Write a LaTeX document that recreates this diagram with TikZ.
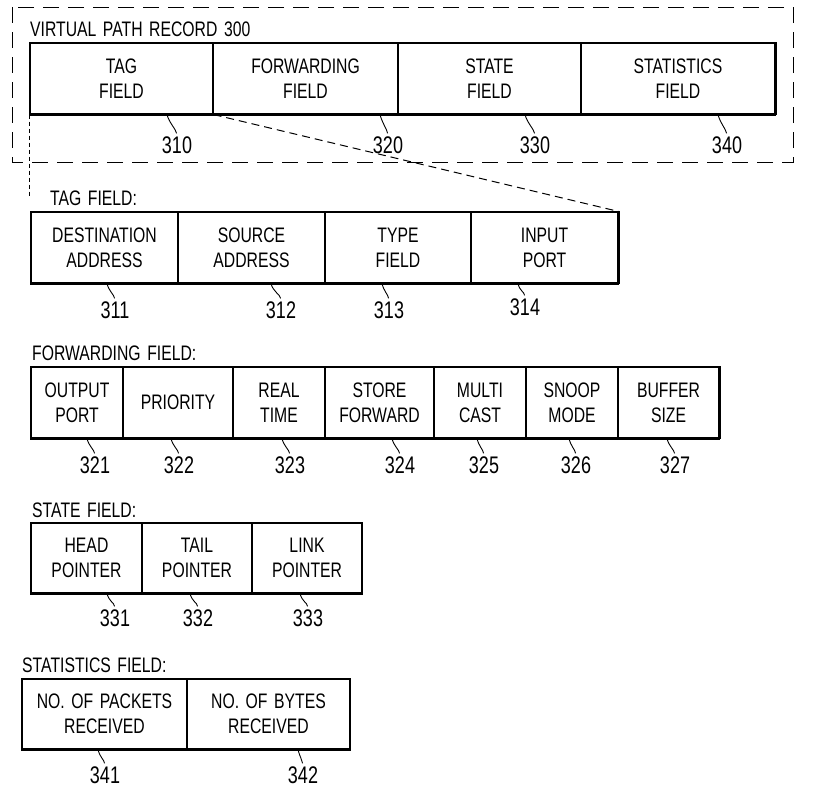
\documentclass[tikz,border=0pt]{standalone}
\usepackage{fontspec}
\setmainfont{Liberation Sans}[FakeStretch=0.75,WordSpace=1.5]
\newcommand{\lblfont}{\fontsize{21}{25}\selectfont}
\newcommand{\numfont}{\fontsize{24}{26}\selectfont}
\begin{document}
\begin{tikzpicture}[x=1pt,y=-1pt,
  cell/.style={draw, line width=1.1pt, inner sep=0pt, align=center, font=\lblfont, minimum height=71pt},
  baseline/.style={line width=2.3pt},
  tickline/.style={line width=0.9pt, shorten >=3pt},
  num/.style={font=\numfont, inner sep=0pt},
  heading/.style={anchor=west, inner sep=0pt, font=\lblfont},
  outerdash/.style={line width=0.9pt, dash pattern=on 16pt off 9pt},
  zoomdash/.style={line width=1pt, dash pattern=on 8pt off 5pt},
  leaderdash/.style={line width=0.8pt, dash pattern=on 4pt off 3pt}]
\useasboundingbox (0,0) rectangle (827,787);

% ---------- Virtual path record ----------
\node[heading] (title) at (30,29) {VIRTUAL PATH RECORD 300};
\node[cell, minimum width=183pt] (r1) at (121.5,78.5) {TAG\\FIELD};
\node[cell, minimum width=185pt] (r2) at (305.5,78.5) {FORWARDING\\FIELD};
\node[cell, minimum width=183pt] (r3) at (489.5,78.5) {STATE\\FIELD};
\node[cell, minimum width=194pt] (r4) at (678,78.5) {STATISTICS\\FIELD};
\draw[baseline] (r1.south west) -- (r4.south east);
\draw[line width=2pt] (r4.north east) -- (r4.south east);
\coordinate (obTL) at (12,7);
\coordinate (obBR) at (793,162);
\draw[outerdash] (obTL) rectangle (obBR);

\node[num] (n310) at (177,145) {310};
\node[num] (n320) at (388,145) {320};
\node[num] (n330) at (535,145) {330};
\node[num] (n340) at (727,145) {340};
\draw[tickline] ([xshift=45.5pt]r1.south) .. controls +(2,8) and +(-1,-7) .. (n310.north);
\draw[tickline] ([xshift=74.5pt]r2.south) .. controls +(2,8) and +(-1,-7) .. (n320.north);
\draw[tickline] ([xshift=35.5pt]r3.south) .. controls +(2,8) and +(-1,-7) .. (n330.north);
\draw[tickline] ([xshift=40pt]r4.south) .. controls +(2,8) and +(-1,-7) .. (n340.north);

% ---------- Tag field ----------
\node[heading] (htag) at (50,198) {TAG FIELD:};
\node[cell, minimum width=147pt] (t1) at (104.5,247.5) {DESTINATION\\ADDRESS};
\node[cell, minimum width=147pt] (t2) at (251.5,247.5) {SOURCE\\ADDRESS};
\node[cell, minimum width=146pt] (t3) at (398,247.5) {TYPE\\FIELD};
\node[cell, minimum width=147pt] (t4) at (544.5,247.5) {INPUT\\PORT};
\draw[baseline] (t1.south west) -- (t4.south east);
\draw[line width=2pt] (t4.north east) -- (t4.south east);
\draw[zoomdash] (r1.south east) -- (t4.north east);
\draw[leaderdash] (r1.south west) -- (htag.west -| r1.south west);

\node[num] (n311) at (115,310) {311};
\node[num] (n312) at (281,310) {312};
\node[num] (n313) at (389,310) {313};
\node[num] (n314) at (525,307) {314};
\draw[tickline] ([xshift=2.5pt]t1.south) .. controls +(2,8) and +(-1,-7) .. (n311.north);
\draw[tickline] ([xshift=19.5pt]t2.south) .. controls +(2,8) and +(-1,-7) .. (n312.north);
\draw[tickline] ([xshift=-16pt]t3.south) .. controls +(2,8) and +(-1,-7) .. (n313.north);
\draw[tickline] ([xshift=-26.5pt]t4.south) .. controls +(2,8) and +(-1,-7) .. (n314.north);

% ---------- Forwarding field ----------
\node[heading] (hfwd) at (32,353) {FORWARDING FIELD:};
\node[cell, minimum width=92pt]  (f1) at (77,402.5)    {OUTPUT\\PORT};
\node[cell, minimum width=110pt] (f2) at (178,402.5)   {PRIORITY};
\node[cell, minimum width=92pt]  (f3) at (279,402.5)   {REAL\\TIME};
\node[cell, minimum width=109pt] (f4) at (379.5,402.5) {STORE\\FORWARD};
\node[cell, minimum width=92pt]  (f5) at (480,402.5)   {MULTI\\CAST};
\node[cell, minimum width=92pt]  (f6) at (572,402.5)   {SNOOP\\MODE};
\node[cell, minimum width=101pt] (f7) at (668.5,402.5) {BUFFER\\SIZE};
\draw[baseline] (f1.south west) -- (f7.south east);
\draw[line width=2pt] (f7.north east) -- (f7.south east);

\node[num] (n321) at (95,465)  {321};
\node[num] (n322) at (179,465) {322};
\node[num] (n323) at (290,465) {323};
\node[num] (n324) at (400,465) {324};
\node[num] (n325) at (484,465) {325};
\node[num] (n326) at (576,465) {326};
\node[num] (n327) at (675,465) {327};
\draw[tickline] ([xshift=10pt]f1.south)   .. controls +(2,8) and +(-1,-7) .. (n321.north);
\draw[tickline] ([xshift=-7pt]f2.south)   .. controls +(2,8) and +(-1,-7) .. (n322.north);
\draw[tickline] ([xshift=3pt]f3.south)    .. controls +(2,8) and +(-1,-7) .. (n323.north);
\draw[tickline] ([xshift=12.5pt]f4.south) .. controls +(2,8) and +(-1,-7) .. (n324.north);
\draw[tickline] ([xshift=-3pt]f5.south)   .. controls +(2,8) and +(-1,-7) .. (n325.north);
\draw[tickline] ([xshift=-3pt]f6.south)   .. controls +(2,8) and +(-1,-7) .. (n326.north);
\draw[tickline] ([xshift=-1.5pt]f7.south) .. controls +(2,8) and +(-1,-7) .. (n327.north);

% ---------- State field ----------
\node[heading] (hstate) at (32,510) {STATE FIELD:};
\node[cell, minimum width=111pt, minimum height=70pt] (s1) at (86.5,558) {HEAD\\POINTER};
\node[cell, minimum width=110pt, minimum height=70pt] (s2) at (197,558)  {TAIL\\POINTER};
\node[cell, minimum width=110pt, minimum height=70pt] (s3) at (307,558)  {LINK\\POINTER};
\draw[baseline] (s1.south west) -- (s3.south east);

\node[num] (n331) at (115,618) {331};
\node[num] (n332) at (198,618) {332};
\node[num] (n333) at (308,618) {333};
\draw[tickline] ([xshift=20.5pt]s1.south) .. controls +(2,8) and +(-1,-7) .. (n331.north);
\draw[tickline] ([xshift=-7pt]s2.south)   .. controls +(2,8) and +(-1,-7) .. (n332.north);
\draw[tickline] ([xshift=-7pt]s3.south)   .. controls +(2,8) and +(-1,-7) .. (n333.north);

% ---------- Statistics field ----------
\node[heading] (hstat) at (22,665) {STATISTICS FIELD:};
\node[cell, minimum width=165pt, minimum height=70pt] (q1) at (104.5,714) {NO. OF PACKETS\\RECEIVED};
\node[cell, minimum width=163pt, minimum height=70pt] (q2) at (268.5,714) {NO. OF BYTES\\RECEIVED};
\draw[baseline] (q1.south west) -- (q2.south east);

\node[num] (n341) at (105,775) {341};
\node[num] (n342) at (303,775) {342};
\draw[tickline] ([xshift=-6.5pt]q1.south) .. controls +(2,8) and +(-1,-7) .. (n341.north);
\draw[tickline] ([xshift=29.5pt]q2.south) .. controls +(2,8) and +(-1,-7) .. (n342.north);
\end{tikzpicture}
\end{document}
